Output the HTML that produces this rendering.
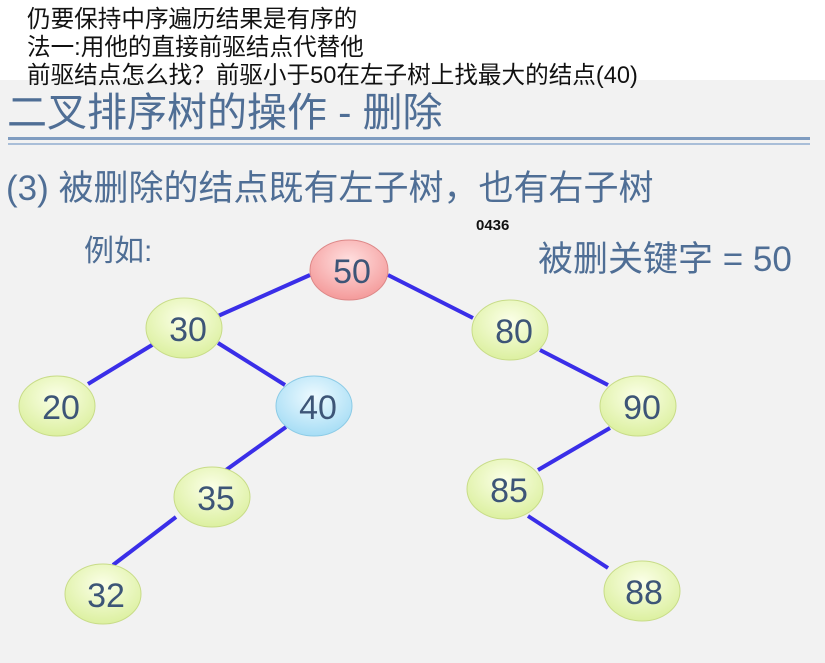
<!DOCTYPE html>
<html><head><meta charset="utf-8"><style>
body{margin:0;width:825px;height:663px;overflow:hidden;background:#f2f2f2;position:relative;font-family:"Liberation Sans","Noto Sans CJK SC",sans-serif}
.t{position:absolute;white-space:nowrap}
#top{position:absolute;left:0;top:0;width:825px;height:80px;background:#fff}
.c{color:#4f6e95}
</style></head><body>
<div id="top"></div>
<div class="t" style="left:27px;top:0px;font-size:23.6px;color:#111">仍要保持中序遍历结果是有序的</div>
<div class="t" style="left:27px;top:28px;font-size:23.6px;color:#111">法一:用他的直接前驱结点代替他</div>
<div class="t" style="left:27px;top:56px;font-size:23.6px;color:#111">前驱结点怎么找？前驱小于50在左子树上找最大的结点(40)</div>
<div class="t c" style="left:7px;top:80px;font-size:40px">二叉排序树的操作 - 删除</div>
<div style="position:absolute;left:8px;top:137px;width:802px;height:3px;background:#7f9cc0"></div>
<div style="position:absolute;left:8px;top:143px;width:802px;height:2px;background:#a9bed8"></div>
<div class="t c" style="left:6px;top:160px;font-size:35px">(3) 被删除的结点既有左子树，也有右子树</div>
<div class="t c" style="left:84px;top:226px;font-size:30px">例如:</div>
<div class="t" style="left:476px;top:217px;font-size:15px;font-weight:bold;color:#111">0436</div>
<div class="t c" style="left:538px;top:231px;font-size:35px">被删关键字 = 50</div>
<svg width="825" height="663" style="position:absolute;left:0;top:0">
<defs>
<radialGradient id="g" cx="50%" cy="35%" r="65%"><stop offset="0" stop-color="#fbffe8"/><stop offset="1" stop-color="#dcf0a0"/></radialGradient>
<radialGradient id="r" cx="50%" cy="35%" r="65%"><stop offset="0" stop-color="#ffe0e0"/><stop offset="1" stop-color="#f49a9a"/></radialGradient>
<radialGradient id="b" cx="50%" cy="35%" r="65%"><stop offset="0" stop-color="#eefaff"/><stop offset="1" stop-color="#a6ddf5"/></radialGradient>
</defs>
<g stroke="#3a2ee8" stroke-width="4">
<line x1="310" y1="275" x2="218" y2="316"/><line x1="388" y1="275" x2="473" y2="318"/>
<line x1="157" y1="342" x2="88" y2="384"/><line x1="218" y1="343" x2="285" y2="385"/>
<line x1="286" y1="427" x2="226" y2="470"/><line x1="540" y1="350" x2="608" y2="385"/>
<line x1="610" y1="428" x2="538" y2="470"/><line x1="176" y1="517" x2="113" y2="565"/>
<line x1="528" y1="516" x2="608" y2="568"/>
</g>
<g font-size="34" fill="#3d5577" text-anchor="middle" font-family="Liberation Sans,sans-serif">
<ellipse cx="349" cy="270" rx="39" ry="30" fill="url(#r)" stroke="#d88"/><text x="352" y="283">50</text>
<ellipse cx="184" cy="328" rx="38" ry="30" fill="url(#g)" stroke="#c8dc88"/><text x="188" y="341">30</text>
<ellipse cx="510" cy="330" rx="38" ry="30" fill="url(#g)" stroke="#c8dc88"/><text x="514" y="343">80</text>
<ellipse cx="57" cy="406" rx="38" ry="30" fill="url(#g)" stroke="#c8dc88"/><text x="61" y="419">20</text>
<ellipse cx="314" cy="406" rx="38" ry="30" fill="url(#b)" stroke="#8ccbe6"/><text x="318" y="419">40</text>
<ellipse cx="638" cy="406" rx="38" ry="30" fill="url(#g)" stroke="#c8dc88"/><text x="642" y="419">90</text>
<ellipse cx="212" cy="497" rx="38" ry="30" fill="url(#g)" stroke="#c8dc88"/><text x="216" y="510">35</text>
<ellipse cx="505" cy="489" rx="38" ry="30" fill="url(#g)" stroke="#c8dc88"/><text x="509" y="502">85</text>
<ellipse cx="103" cy="594" rx="38" ry="30" fill="url(#g)" stroke="#c8dc88"/><text x="106" y="607">32</text>
<ellipse cx="642" cy="591" rx="38" ry="30" fill="url(#g)" stroke="#c8dc88"/><text x="644" y="604">88</text>
</g>
</svg>
</body></html>
